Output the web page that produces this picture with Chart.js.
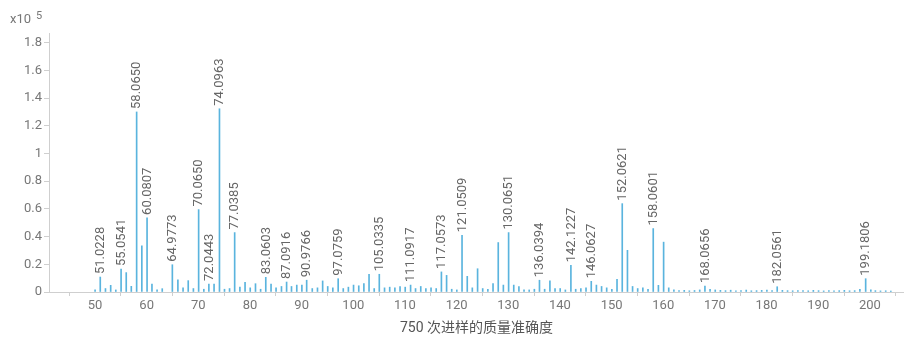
<!DOCTYPE html>
<html>
<head>
<meta charset="utf-8">
<script src="https://cdn.jsdelivr.net/npm/chart.js@4.4.1/dist/chart.umd.min.js"></script>
<style>
  html, body { margin: 0; padding: 0; background: #fff; }
  #wrap { width: 904px; height: 337px; position: relative; }
</style>
</head>
<body>
<div id="wrap"><canvas id="c"></canvas></div>
<script>
// Annotated peaks: m/z and intensity (counts)
const labeledMz = [51.0228, 55.0541, 58.0650, 60.0807, 64.9773, 70.0650, 72.0443, 74.0963,
  77.0385, 83.0603, 87.0916, 90.9766, 97.0759, 105.0335, 111.0917, 117.0573, 121.0509,
  130.0651, 136.0394, 142.1227, 146.0627, 152.0621, 158.0601, 168.0656, 182.0561, 199.1806];
const labeledIntensity = [10800, 16600, 130000, 53500, 19700, 59500, 5800, 132300,
  42900, 10600, 7200, 8500, 9600, 12800, 5000, 14500, 41000,
  42900, 8500, 19300, 7700, 63800, 45800, 4300, 3800, 9600];

// Other fragment peaks (not annotated)
const minorMz = [50.02, 52.03, 53.04, 54.03, 56.05, 57.03, 59.07, 61.03, 62.02, 63.02,
  66.05, 67.05, 68.05, 69.05, 71.07, 73.05, 75.07, 76.05, 78.05, 79.05, 80.05, 81.07,
  82.06, 84.08, 85.05, 86.10, 88.04, 89.06, 90.05, 92.06, 93.07, 94.07, 95.05, 96.04,
  98.06, 99.05, 100.05, 101.06, 102.05, 103.05, 104.05, 106.05, 107.05, 108.05, 109.05,
  110.05, 112.05, 113.06, 114.05, 115.05, 116.05, 118.06, 119.05, 120.04, 122.06, 123.04,
  124.06, 125.05, 126.05, 127.05, 128.06, 129.05, 131.06, 132.06, 133.05, 134.05, 135.05,
  137.04, 138.06, 139.05, 140.05, 141.05, 143.05, 144.05, 145.05, 147.06, 148.06, 149.05,
  150.05, 151.05, 153.07, 154.06, 155.05, 156.05, 157.05, 159.06, 160.07, 161.06, 162.06,
  163.05, 164.06, 165.05, 166.05, 167.06, 169.06, 170.06, 171.06, 172.05, 173.05, 174.06,
  175.05, 176.06, 177.05, 178.06, 179.05, 180.06, 181.06, 183.06, 184.06, 185.05, 186.06,
  187.05, 188.06, 189.05, 190.06, 191.05, 192.06, 193.05, 194.06, 195.05, 196.06, 197.05,
  198.06, 200.18, 201.06, 202.05, 203.06, 204.05, 205.06];
const minorIntensity = [1500, 2500, 4800, 1500, 14000, 4100, 33300, 5800, 1500, 2400,
  8700, 3000, 8200, 2500, 2000, 5800, 2000, 2500, 3500, 7000, 3000, 6000,
  2000, 5700, 3000, 4000, 4000, 5000, 5000, 2500, 3000, 8000, 4000, 3000,
  2500, 3500, 5000, 4500, 6000, 12800, 2500, 3000, 3500, 3000, 4000,
  3500, 2500, 4000, 2500, 3000, 2500, 12000, 2000, 1500, 11300, 3000,
  16800, 2500, 2000, 6000, 35700, 5000, 5000, 4000, 1500, 1500, 2000,
  2000, 8000, 2500, 2500, 1500, 2000, 2500, 3000, 5000, 4000, 3000,
  2000, 9200, 30100, 4000, 2500, 3000, 2000, 4800, 36000, 3000, 1500,
  1000, 1200, 900, 1100, 1500, 2000, 1500, 1200, 1000, 1300, 900,
  1100, 1400, 900, 1000, 1200, 1300, 1100, 1200, 1000, 900, 1100,
  1000, 900, 1200, 1000, 800, 1100, 900, 1000, 1200, 900, 1000,
  2000, 1500, 1000, 800, 900, 700];

const xTickValues = [50, 60, 70, 80, 90, 100, 110, 120, 130, 140, 150, 160, 170, 180, 190, 200];
const yTickValues = [0, 20000, 40000, 60000, 80000, 100000, 120000, 140000, 160000, 180000];
const xTitle = '750 次进样的质量准确度';

const points = labeledMz.map((m, i) => ({ x: m, y: labeledIntensity[i] }))
  .concat(minorMz.map((m, i) => ({ x: m, y: minorIntensity[i] })))
  .sort((a, b) => a.x - b.x);

const FONT = "Roboto, 'Noto Sans CJK SC', sans-serif";
const AXIS_GREY = '#cfcfcf';
const PEAK_BLUE = '#5ab4de';

// Rotated m/z annotations above the annotated peaks, plus the ×10^5 exponent
const peakLabels = {
  id: 'peakLabels',
  afterDatasetsDraw(chart) {
    const { ctx, scales: { x, y } } = chart;
    ctx.save();
    ctx.fillStyle = '#666';
    ctx.font = '13px ' + FONT;
    ctx.textAlign = 'left';
    ctx.textBaseline = 'middle';
    labeledMz.forEach((m, i) => {
      const px = x.getPixelForValue(m);
      const py = y.getPixelForValue(labeledIntensity[i]);
      ctx.save();
      ctx.translate(px, py - 3);
      ctx.rotate(-Math.PI / 2);
      ctx.fillText(m.toFixed(4), 0, 0.5);
      ctx.restore();
    });
    ctx.restore();
  },
  afterDraw(chart) {
    const { ctx } = chart;
    ctx.save();
    ctx.fillStyle = '#777';
    ctx.textBaseline = 'alphabetic';
    ctx.textAlign = 'left';
    ctx.font = '13px ' + FONT;
    ctx.fillText('x10', 10, 23);
    ctx.font = '11px ' + FONT;
    ctx.fillText('5', 36, 19);
    ctx.restore();
  }
};

new Chart(document.getElementById('c'), {
  type: 'bar',
  data: {
    datasets: [{
      data: points,
      backgroundColor: PEAK_BLUE,
      borderWidth: 0,
      barThickness: 1
    }]
  },
  options: {
    responsive: true,
    maintainAspectRatio: false,
    animation: false,
    layout: { padding: { top: 33, left: 0, right: 0, bottom: 0 } },
    plugins: { legend: { display: false }, tooltip: { enabled: false } },
    scales: {
      x: {
        type: 'linear',
        min: 41.1,
        max: 206.6,
        offset: false,
        afterBuildTicks(scale) { scale.ticks = xTickValues.map(v => ({ value: v })); },
        afterFit(scale) { scale.height = 45; },
        border: { display: true, color: AXIS_GREY, width: 1 },
        grid: { display: true, drawOnChartArea: false, drawTicks: true, tickLength: 4, color: AXIS_GREY },
        ticks: { color: '#777', font: { family: FONT, size: 13 }, padding: 2, maxRotation: 0, autoSkip: false },
        title: { display: true, text: xTitle, color: '#555', font: { family: FONT, size: 14 }, padding: { top: 2, bottom: 0 } }
      },
      y: {
        min: 0,
        max: 187000,
        afterBuildTicks(scale) { scale.ticks = yTickValues.map(v => ({ value: v })); },
        afterFit(scale) { scale.width = 49; },
        border: { display: true, color: AXIS_GREY, width: 1 },
        grid: { display: true, drawOnChartArea: false, drawTicks: true, tickLength: 5, color: AXIS_GREY },
        ticks: {
          color: '#777',
          font: { family: FONT, size: 13 },
          padding: 2,
          callback: v => String(Math.round(v / 10000) / 10)
        }
      }
    }
  },
  plugins: [peakLabels]
});
</script>
</body>
</html>
